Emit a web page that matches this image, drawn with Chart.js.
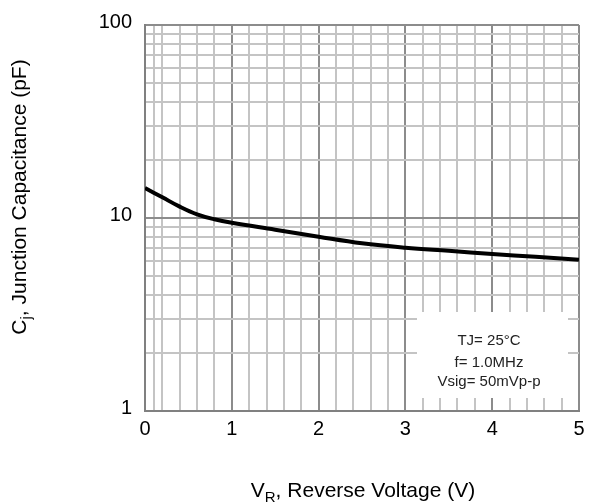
<!DOCTYPE html>
<html lang="en">
<head>
    <meta charset="UTF-8">
    <title>Junction Capacitance vs Reverse Voltage</title>
    <script src="https://cdn.jsdelivr.net/npm/chart.js"></script>
    <style>
        body { margin: 0; background: #fff; }
        #wrap { width: 596px; height: 504px; position: relative; }
    </style>
</head>
<body>
    <div id="wrap"><canvas id="cjChart"></canvas></div>

    <script>
        // reverse voltage (V) and junction capacitance (pF)
        const vr = [0, 0.2, 0.4, 0.6, 0.8, 1.0, 1.5, 2.0, 2.5, 3.0, 3.5, 4.0, 4.5, 5.0];
        const cj = [14.3, 12.8, 11.45, 10.45, 9.85, 9.45, 8.7, 8.0, 7.4, 7.02, 6.76, 6.51, 6.29, 6.07];

        const xTickLabels = ['0', '1', '2', '3', '4', '5'];
        const yTickLabels = ['1', '10', '100'];
        const xMinorSteps = [0.1, 0.2, 0.4, 0.6, 0.8];
        const noteLines = ['TJ= 25\u00B0C', 'f= 1.0MHz', 'Vsig= 50mVp-p'];

        const FONT = '"Liberation Sans", Arial, sans-serif';

        function isMajorX(v) { return Math.abs(v - Math.round(v)) < 1e-6; }
        function isMajorY(v) { return yTickLabels.includes(String(v)); }

        // white note box and axis titles with subscripts
        const extras = {
            id: 'extras',
            beforeDatasetsDraw(chart) {
                const c = chart.ctx, a = chart.chartArea;
                c.save();
                c.fillStyle = '#fff';
                c.fillRect(a.right - 162, a.bottom - 99, 151, 86);
                c.fillStyle = '#222';
                c.font = '15px ' + FONT;
                c.textAlign = 'center';
                c.textBaseline = 'middle';
                const cx = a.right - 90;
                [341, 363, 382].forEach((y, i) => c.fillText(noteLines[i], cx, y));
                c.restore();
            },
            afterDraw(chart) {
                const c = chart.ctx;
                c.save();
                c.fillStyle = '#000';
                c.textBaseline = 'alphabetic';
                c.textAlign = 'left';

                // x title
                const big = '21px ' + FONT, small = '15px ' + FONT;
                let parts = [['V', big, 0], ['R', small, 5], [', Reverse Voltage (V)', big, 0]];
                let w = 0;
                parts.forEach(p => { c.font = p[1]; w += c.measureText(p[0]).width; });
                let x = 363 - w / 2;
                parts.forEach(p => { c.font = p[1]; c.fillText(p[0], x, 497 + p[2]); x += c.measureText(p[0]).width; });

                // y title
                c.translate(26, 197);
                c.rotate(-Math.PI / 2);
                parts = [['C', big, 0], ['j', small, 5], [', Junction Capacitance (pF)', big, 0]];
                w = 0;
                parts.forEach(p => { c.font = p[1]; w += c.measureText(p[0]).width; });
                x = -w / 2;
                parts.forEach(p => { c.font = p[1]; c.fillText(p[0], x, p[2]); x += c.measureText(p[0]).width; });
                c.restore();
            }
        };

        new Chart(document.getElementById('cjChart'), {
            type: 'line',
            data: {
                datasets: [{
                    data: vr.map((v, i) => ({ x: v, y: cj[i] })),
                    borderColor: '#000',
                    borderWidth: 4,
                    pointRadius: 0,
                    tension: 0.4,
                    fill: false
                }]
            },
            options: {
                responsive: true,
                maintainAspectRatio: false,
                animation: false,
                layout: { padding: { top: 21, right: 17, left: 0, bottom: 0 } },
                plugins: { legend: { display: false }, tooltip: { enabled: false } },
                scales: {
                    x: {
                        type: 'linear',
                        min: 0,
                        max: 5,
                        afterBuildTicks(scale) {
                            const t = [];
                            for (let i = 0; i < xTickLabels.length; i++) {
                                t.push({ value: i });
                                if (i < xTickLabels.length - 1) {
                                    xMinorSteps.forEach(s => { if (i > 0 && s === 0.1) return; t.push({ value: i + s }); });
                                }
                            }
                            scale.ticks = t;
                        },
                        afterFit(scale) { scale.height = 93; },
                        grid: {
                            drawTicks: false,
                            lineWidth: 2,
                            color: ctx => isMajorX(ctx.tick.value) ? '#8c8c8c' : '#c4c4c4'
                        },
                        border: { color: '#808080', width: 2 },
                        ticks: {
                            autoSkip: false,
                            maxRotation: 0,
                            padding: 6,
                            color: '#000',
                            font: { family: FONT, size: 20 },
                            callback: v => isMajorX(v) ? xTickLabels[Math.round(v)] : ''
                        }
                    },
                    y: {
                        type: 'logarithmic',
                        min: 1,
                        max: 100,
                        afterBuildTicks(scale) {
                            const t = [];
                            [1, 10].forEach(d => { for (let k = 1; k <= 9; k++) t.push({ value: k * d }); });
                            t.push({ value: 100 });
                            scale.ticks = t;
                        },
                        afterFit(scale) { scale.width = 145; },
                        grid: {
                            drawTicks: false,
                            lineWidth: 2,
                            color: ctx => isMajorY(ctx.tick.value) ? '#8c8c8c' : '#c4c4c4'
                        },
                        border: { color: '#808080', width: 2 },
                        ticks: {
                            autoSkip: false,
                            padding: 13,
                            labelOffset: -3,
                            color: '#000',
                            font: { family: FONT, size: 20 },
                            callback: v => isMajorY(v) ? String(v) : ''
                        }
                    }
                }
            },
            plugins: [extras]
        });
    </script>
</body>
</html>
